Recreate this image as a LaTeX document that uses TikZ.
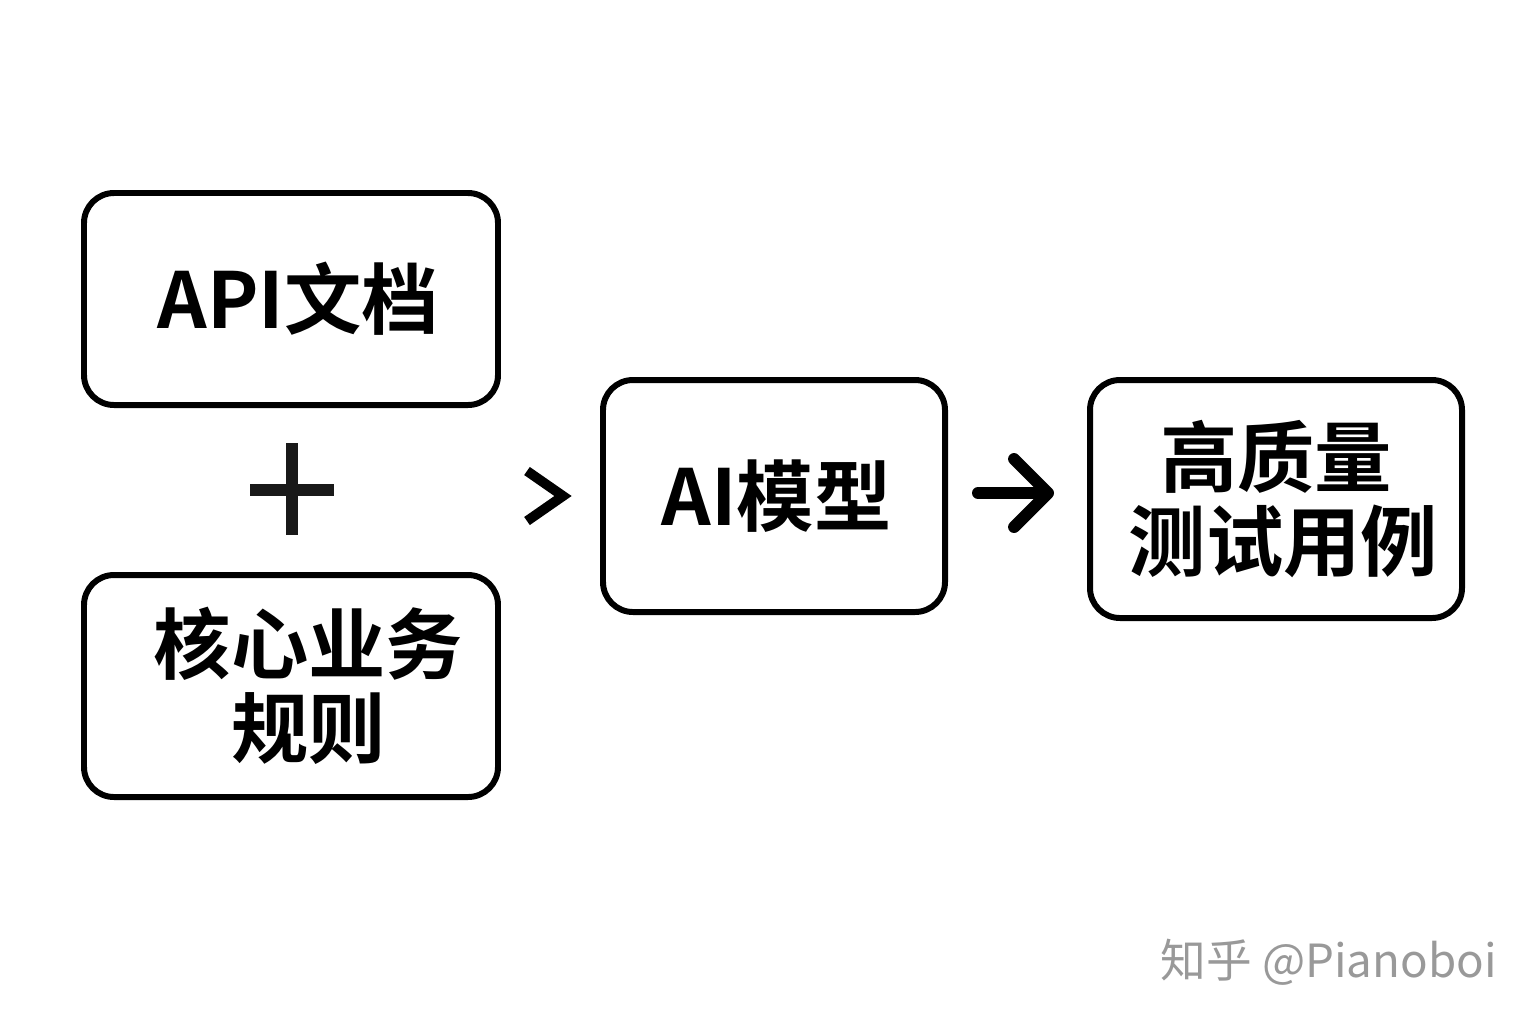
\documentclass[tikz,border=0pt]{standalone}
\usepackage{fontspec}
\setmainfont{Noto Sans CJK SC}
\newfontfamily\cjkbold{Noto Sans CJK SC Bold}
\usetikzlibrary{positioning, arrows.meta}

\begin{document}
\begin{tikzpicture}[
    box/.style={draw=black, line width=1.7pt, rounded corners=0.3cm,
                inner sep=0pt, align=center,
                font=\cjkbold\fontsize{22}{24}\selectfont},
    sym/.style={line width=3.4pt, color=black!90},
    arr/.style={-{Straight Barb[length=3.4mm, width=6.8mm, round]},
                line width=3.4pt, line cap=round},
    wmark/.style={font=\fontsize{13}{16}\selectfont, text=black!40},
  ]
    \useasboundingbox (0,0) rectangle (15.36,-10.24);

    %% input boxes on the left
    \node[box, minimum width=4.14cm, minimum height=2.12cm] (api) at (2.91,-2.99)
      {\hspace*{0.15cm}API文档};
    \node[box, minimum width=4.14cm, minimum height=2.22cm] (rules) at (2.91,-6.86)
      {\hspace*{0.35cm}核心业务\\\hspace*{0.35cm}规则};

    % plus between the two inputs
    \coordinate (plus) at (2.92,-4.90);
    \draw[sym] ([xshift=-0.42cm]plus) -- ([xshift=0.42cm]plus);
    \draw[sym] ([yshift=0.47cm]plus) -- ([yshift=-0.45cm]plus);

    %% model and result
    \node[box, minimum width=3.42cm, minimum height=2.32cm] (model) at (7.74,-4.96)
      {\hspace*{0.05cm}AI模型};
    \node[box, minimum width=3.72cm, minimum height=2.38cm] (cases) at (12.76,-4.99)
      {\raisebox{-0.06cm}{高质量}\\\hspace*{0.15cm}\raisebox{-0.06cm}{测试用例}};

    % chevron into the model
    \coordinate (chev) at (5.45,-4.96);
    \draw[line width=2.8pt] ([shift={(-0.18,0.25)}]chev) -- ([xshift=0.18cm]chev)
      -- ([shift={(-0.18,-0.25)}]chev);

    \draw[arr] ([shift={(0.3,0.03)}]model.east) -- ([shift={(-0.33,0.06)}]cases.west);

    % watermark
    \node[wmark, anchor=east] (wm) at (15.09,-9.62) {知乎 @Pianoboi};
\end{tikzpicture}
\end{document}
